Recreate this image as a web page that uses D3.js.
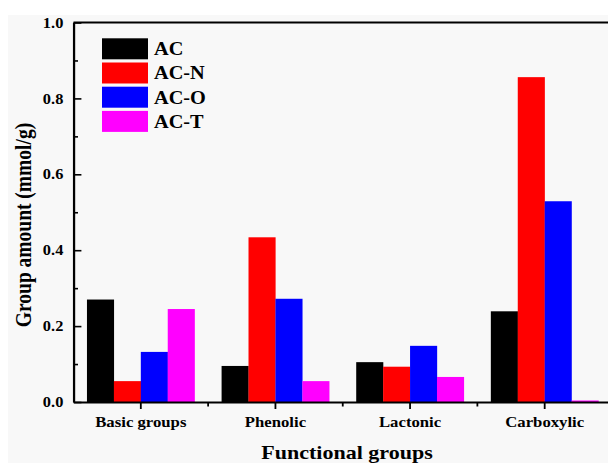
<!DOCTYPE html>
<html>
<head>
<meta charset="utf-8">
<script src="https://cdn.jsdelivr.net/npm/d3@7/dist/d3.min.js"></script>
<style>
html,body{margin:0;padding:0;background:#fff;}
svg{display:block;}
</style>
</head>
<body>
<svg id="chart"></svg>
<script>
const categories = ["Basic groups", "Phenolic", "Lactonic", "Carboxylic"];
const seriesNames = ["AC", "AC-N", "AC-O", "AC-T"];
const seriesColors = ["#000000", "#ff0000", "#0000ff", "#ff00ff"];
const valuesAC  = [0.270, 0.095, 0.105, 0.239];
const valuesACN = [0.055, 0.434, 0.093, 0.856];
const valuesACO = [0.132, 0.272, 0.148, 0.529];
const valuesACT = [0.245, 0.055, 0.066, 0.004];
const seriesValues = [valuesAC, valuesACN, valuesACO, valuesACT];
const yMajorTicks = [0, 0.2, 0.4, 0.6, 0.8, 1.0];
const yMinorTicks = [0.1, 0.3, 0.5, 0.7, 0.9];
const xTitle = "Functional groups";
const yTitle = "Group amount (mmol/g)";

const W = 608, H = 463;
const SX = 1.13;               // horizontal stretch of the original picture
const VW = W / SX;
const FONT = "'Liberation Serif','Times New Roman',serif";

const svg = d3.select("#chart")
  .attr("width", W).attr("height", H)
  .attr("viewBox", `0 0 ${VW} ${H}`)
  .attr("preserveAspectRatio", "none");

svg.append("rect").attr("x", 0).attr("y", 0).attr("width", VW).attr("height", H).attr("fill", "#ffffff");
svg.append("rect").attr("x", 8 / SX).attr("y", 15).attr("width", VW).attr("height", H).attr("fill", "#f8f8f8");

const pLeft = 73.5 / SX, pRight = 612 / SX, pTop = 22.5, pBottom = 402;

const x = d3.scaleBand().domain(categories).range([pLeft, pRight]).paddingInner(0.2).paddingOuter(0.1);
const xs = d3.scaleBand().domain(seriesNames).range([0, x.bandwidth()]).padding(0);
const y = d3.scaleLinear().domain([0, 1]).range([pBottom, pTop]);

// bars
const rows = [];
categories.forEach((c, ci) => seriesNames.forEach((s, si) => rows.push({c, s, si, v: seriesValues[si][ci]})));
svg.append("g").selectAll("rect").data(rows).join("rect")
  .attr("x", d => x(d.c) + xs(d.s))
  .attr("width", xs.bandwidth() + 0.15)
  .attr("y", d => y(d.v))
  .attr("height", d => y(0) - y(d.v))
  .attr("fill", d => seriesColors[d.si]);

// top line
svg.append("line").attr("x1", pLeft).attr("x2", VW).attr("y1", pTop).attr("y2", pTop)
  .attr("stroke", "#000").attr("stroke-width", 2);

// x axis
const gx = svg.append("g").attr("transform", `translate(0,${pBottom})`)
  .call(d3.axisBottom(x).tickSize(7).tickSizeOuter(0).tickPadding(8));
gx.select(".domain").attr("stroke-width", 2);
gx.selectAll(".tick line").attr("stroke-width", 1.6);
gx.selectAll(".tick text").attr("font-family", FONT).attr("font-weight", "bold")
  .attr("font-size", 14.8).attr("fill", "#000").attr("dy", "0.71em");
// minor x ticks between groups
const step = x.step();
const xMinor = [1, 2, 3].map(k => pLeft + k * step);
svg.append("g").selectAll("line").data(xMinor).join("line")
  .attr("x1", d => d).attr("x2", d => d).attr("y1", pBottom).attr("y2", pBottom + 4.5)
  .attr("stroke", "#000").attr("stroke-width", 1.6);

// y axis
const gy = svg.append("g").attr("transform", `translate(${pLeft},0)`)
  .call(d3.axisLeft(y).tickValues(yMajorTicks).tickFormat(d3.format(".1f")).tickSize(-7).tickSizeOuter(0).tickPadding(9));
gy.select(".domain").attr("stroke-width", 2);
gy.selectAll(".tick line").attr("stroke-width", 1.6);
gy.selectAll(".tick text").attr("font-family", FONT).attr("font-weight", "bold")
  .attr("font-size", 14.5).attr("fill", "#000");
svg.append("g").attr("transform", `translate(${pLeft},0)`)
  .call(d3.axisLeft(y).tickValues(yMinorTicks).tickFormat("").tickSize(-4).tickSizeOuter(0))
  .call(g => g.select(".domain").remove())
  .selectAll(".tick line").attr("stroke-width", 1.6);

// titles
svg.append("text").attr("x", 347 / SX).attr("y", 459).attr("text-anchor", "middle")
  .attr("font-family", FONT).attr("font-weight", "bold").attr("font-size", 19.5).text(xTitle);
svg.append("text").attr("transform", `translate(${31 / SX},225) rotate(-90)`).attr("text-anchor", "middle")
  .attr("font-family", FONT).attr("font-weight", "bold").attr("font-size", 19.5).text(yTitle);

// legend
const lg = svg.append("g");
seriesNames.forEach((s, i) => {
  const ty = 38.3 + i * 24.2;
  lg.append("rect").attr("x", 102 / SX).attr("y", ty).attr("width", 46 / SX).attr("height", 21)
    .attr("fill", seriesColors[i]);
  lg.append("text").attr("x", 154 / SX).attr("y", ty + 17)
    .attr("font-family", FONT).attr("font-weight", "bold").attr("font-size", 18).text(s);
});
</script>
</body>
</html>
